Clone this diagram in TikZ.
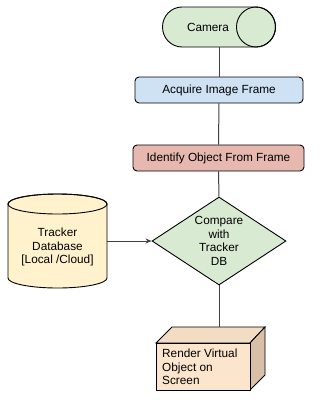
\documentclass[tikz,border=0pt]{standalone}
\usepackage{fontspec}
\setmainfont{Liberation Sans}
\usetikzlibrary{arrows.meta,shapes.geometric}
\definecolor{gfill}{HTML}{D9EAD3}
\definecolor{bfill}{HTML}{CFE2F3}
\definecolor{rfill}{HTML}{E6B8AF}
\definecolor{yfill}{HTML}{FFF2CC}
\definecolor{ofill}{HTML}{FCE5CD}
\definecolor{otop}{HTML}{F3DCC4}
\definecolor{oside}{HTML}{D8C0A8}
\definecolor{lnc}{HTML}{404040}
\begin{document}
\begin{tikzpicture}[x=1pt,y=-1pt,
  txt/.style={font=\fontsize{11.8}{13.5}\selectfont, inner sep=0pt, align=center},
  shp/.style={draw=black, line width=0.9pt},
  boxnode/.style={txt, shp, rounded corners=4pt, minimum width=#1, minimum height=26pt},
  conn/.style={draw=lnc, line width=1pt},
]
\useasboundingbox (0,0) rectangle (326,400);
% Camera (horizontal cylinder)
\path[shp, fill=gfill] (256,7) arc[start angle=-90, end angle=90, x radius=19.5, y radius=20]
  -- (182,47) arc[start angle=90, end angle=270, x radius=19.5, y radius=20] -- cycle;
\draw[shp] (256,27) ellipse[x radius=19.5, y radius=20];
\node[txt] (cam) at (208,27) {Camera};
\coordinate (camB) at (219,47);
% Acquire
\node[boxnode=168pt, fill=bfill] (acq) at (219,90) {Acquire Image Frame};
% Identify
\node[boxnode=171pt, fill=rfill] (ident) at (218.5,158) {Identify Object From Frame};
% Diamond
\node[txt, shp, diamond, aspect=1.5, minimum width=134pt, minimum height=88pt, fill=gfill] (cmp) at (219,241) {Compare\\with\\Tracker\\DB};
% Database cylinder
\path[shp, fill=yfill] (8,204) -- (8,278) arc[start angle=180, end angle=0, x radius=49.5, y radius=10]
  -- (107,204) arc[start angle=0, end angle=-180, x radius=49.5, y radius=10] -- cycle;
\draw[shp] (57.5,204) ellipse[x radius=49.5, y radius=10];
\node[txt] (db) at (57.5,247) {Tracker\\Database\\{[Local /Cloud]}};
\coordinate (dbR) at (107,241);
% Render cube
\path[shp, fill=otop] (156,343) -- (172,327) -- (265,327) -- (250,343) -- cycle;
\path[shp, fill=oside] (250,343) -- (265,327) -- (265,375) -- (250,390) -- cycle;
\path[shp, fill=ofill] (156,343) rectangle (250,390);
\node[txt, align=left, anchor=west] (rend) at (162,367) {Render Virtual\\Object on\\Screen};
\coordinate (rTop) at (219,327);
% Connectors
\draw[conn] (camB) -- (acq.north);
\draw[conn] (acq.south) -- (ident.north);
\draw[conn] (ident.south) -- (cmp.north);
\draw[conn] (cmp.south) -- (rTop);
\draw[conn, -{Stealth[length=6pt, width=5pt]}] (dbR) -- (cmp.west);
\end{tikzpicture}
\end{document}
